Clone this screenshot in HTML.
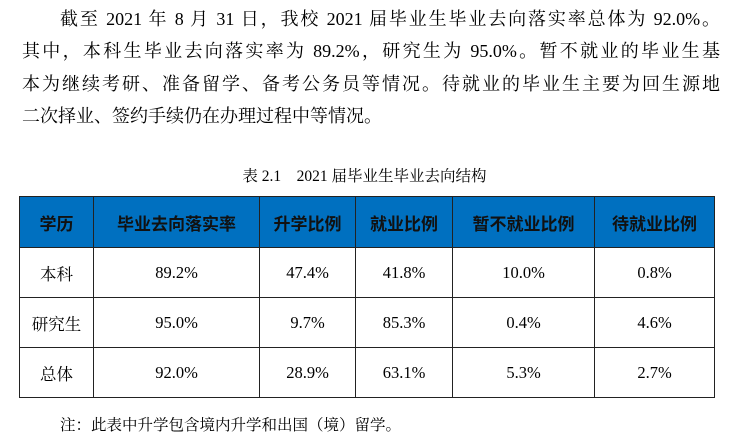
<!DOCTYPE html>
<html><head><meta charset="utf-8"><style>
body{margin:0;width:729px;height:443px;background:#fff;font-family:"Liberation Serif","Noto Serif CJK SC",serif;color:#000;position:relative;overflow:hidden}
.l{position:absolute;left:22px;width:698px;font-size:18px;height:30px;line-height:30px;text-align:justify;text-align-last:justify;white-space:nowrap}
.cap{position:absolute;top:164px;left:0;width:729px;text-align:center;font-size:15.5px}
table{position:absolute;left:19px;top:196px;border-collapse:collapse;font-size:16.5px}
td,th{border:1.5px solid #222;text-align:center;padding:0}
th{background:#0070c0;height:50px;font-family:"Liberation Sans","Noto Sans CJK SC",sans-serif;font-weight:bold;font-size:17px;color:#111}
td{height:49px}
.n{position:absolute;left:60px;top:413px;font-size:15.5px}
</style></head><body>
<div class="l" style="top:4px;left:60px;width:660px">截至 2021 年 8 月 31 日，我校 2021 届毕业生毕业去向落实率总体为 92.0%。</div>
<div class="l" style="top:36px">其中，本科生毕业去向落实率为 89.2%，研究生为 95.0%。暂不就业的毕业生基</div>
<div class="l" style="top:69px">本为继续考研、准备留学、备考公务员等情况。待就业的毕业生主要为回生源地</div>
<div class="l" style="top:101px;text-align-last:left">二次择业、签约手续仍在办理过程中等情况。</div>
<div class="cap">表 2.1&nbsp;&nbsp;&nbsp;&nbsp;2021 届毕业生毕业去向结构</div>
<table>
<colgroup><col style="width:74px"><col style="width:166px"><col style="width:96px"><col style="width:97px"><col style="width:142px"><col style="width:120px"></colgroup>
<tr><th>学历</th><th>毕业去向落实率</th><th>升学比例</th><th>就业比例</th><th>暂不就业比例</th><th>待就业比例</th></tr>
<tr><td>本科</td><td>89.2%</td><td>47.4%</td><td>41.8%</td><td>10.0%</td><td>0.8%</td></tr>
<tr><td>研究生</td><td>95.0%</td><td>9.7%</td><td>85.3%</td><td>0.4%</td><td>4.6%</td></tr>
<tr><td>总体</td><td>92.0%</td><td>28.9%</td><td>63.1%</td><td>5.3%</td><td>2.7%</td></tr>
</table>
<div class="n">注：此表中升学包含境内升学和出国（境）留学。</div>
</body></html>
